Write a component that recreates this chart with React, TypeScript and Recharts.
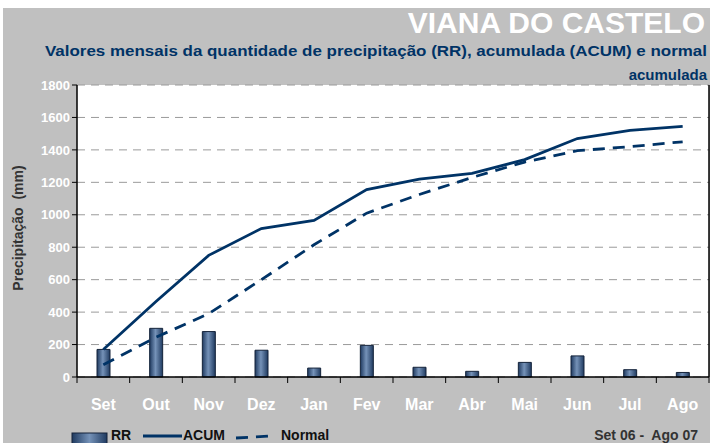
import {
  ComposedChart,
  Bar,
  Line,
  XAxis,
  YAxis,
  CartesianGrid,
} from 'recharts';

const months = ['Set', 'Out', 'Nov', 'Dez', 'Jan', 'Fev', 'Mar', 'Abr', 'Mai', 'Jun', 'Jul', 'Ago'];
const rr = [170, 300, 280, 165, 55, 195, 60, 35, 90, 130, 45, 28];
const acum = [170, 465, 750, 915, 965, 1155, 1220, 1255, 1340, 1470, 1520, 1545];
const normal = [75, 245, 390, 600, 815, 1010, 1125, 1230, 1325, 1395, 1420, 1450];
const yTicks = [0, 200, 400, 600, 800, 1000, 1200, 1400, 1600, 1800];

const data = months.map((m, i) => ({ m, rr: rr[i], acum: acum[i], normal: normal[i] }));

const NAVY = '#003366';
const FONT = '"Liberation Sans", Arial, sans-serif';

function MonthTick(props: any) {
  const { x, y, payload, index } = props;
  const half = payload?.offset || props.width / props.visibleTicksCount / 2;
  return (
    <g>
      {index === 0 && <line x1={x - half} y1={y} x2={x - half} y2={y + 6} stroke="#000" />}
      <line x1={x + half} y1={y} x2={x + half} y2={y + 6} stroke="#000" />
      <text
        x={x}
        y={y + 33}
        textAnchor="middle"
        fill="#fff"
        fontFamily={FONT}
        fontWeight="bold"
        fontSize={16}
      >
        {payload.value}
      </text>
    </g>
  );
}

export default function App() {
  return (
    <div style={{ position: 'absolute', left: 0, top: 0, width: 710, height: 443, background: '#fff', fontFamily: FONT }}>
      <div style={{ position: 'absolute', left: 3, top: 8, right: 0, bottom: 0, background: '#c0c0c0' }} />
      <svg width={710} height={90} style={{ position: 'absolute', left: 0, top: 0 }}>
        <text x={705} y={33} textAnchor="end" fill="#fff" fontWeight="bold" fontSize={30} fontFamily={FONT}>
          VIANA DO CASTELO
        </text>
        <text x={707} y={56} textAnchor="end" fill={NAVY} fontWeight="bold" fontSize={15} fontFamily={FONT}
          textLength={662} lengthAdjust="spacingAndGlyphs">
          Valores mensais da quantidade de precipitação (RR), acumulada (ACUM) e normal
        </text>
        <text x={707} y={80} textAnchor="end" fill={NAVY} fontWeight="bold" fontSize={15} fontFamily={FONT}>
          acumulada
        </text>
      </svg>
      <div style={{ position: 'absolute', left: 0, top: 0 }}>
        <ComposedChart width={710} height={443} data={data} margin={{ top: 85, right: 0, bottom: 26, left: 0 }}>
          <defs>
            <linearGradient id="barGrad" x1="0" y1="0" x2="1" y2="0">
              <stop offset="0%" stopColor="#1f3a60" />
              <stop offset="45%" stopColor="#7592b8" />
              <stop offset="100%" stopColor="#1f3a60" />
            </linearGradient>
          </defs>
          <CartesianGrid vertical={false} stroke="#9a9a9a" strokeDasharray="8 6" fill="#fff" />
          <XAxis
            dataKey="m"
            height={40}
            tickLine={false}
            tickSize={0}
            tickMargin={0}
            axisLine={{ stroke: '#000', strokeWidth: 1.5 }}
            tick={<MonthTick />}
            interval={0}
          />
          <XAxis xAxisId="top" dataKey="m" orientation="top" height={0} tick={false} tickLine={false}
            axisLine={{ stroke: '#000', strokeWidth: 1.5 }} />
          <YAxis
            width={77}
            domain={[0, 1800]}
            ticks={yTicks}
            interval={0}
            tickSize={5}
            tickLine={{ stroke: '#000' }}
            axisLine={{ stroke: '#000', strokeWidth: 1.5 }}
            tick={{ fill: '#fff', fontSize: 13, fontWeight: 'bold', fontFamily: FONT }}
          />
          <YAxis yAxisId="r" orientation="right" width={1} domain={[0, 1800]} tick={false} tickLine={false}
            axisLine={{ stroke: '#000', strokeWidth: 1.5 }} />
          <Bar dataKey="rr" barSize={13} fill="url(#barGrad)" stroke="#14233a" strokeWidth={1} isAnimationActive={false} />
          <Line dataKey="acum" stroke={NAVY} strokeWidth={2.8} dot={false} isAnimationActive={false} />
          <Line dataKey="normal" stroke={NAVY} strokeWidth={2.8} strokeDasharray="12 8" dot={false} isAnimationActive={false} />
        </ComposedChart>
      </div>
      <div
        style={{
          position: 'absolute', left: 5, top: 228, transform: 'translate(-50%, -50%) rotate(-90deg)',
          marginLeft: 13, whiteSpace: 'nowrap', fontWeight: 'bold', fontSize: 14, color: '#333',
        }}
      >
        Precipitação&nbsp;&nbsp;(mm)
      </div>
      <svg width={710} height={22} style={{ position: 'absolute', left: 0, top: 421 }}>
        <defs>
          <linearGradient id="legGrad" x1="0" y1="0" x2="1" y2="0">
            <stop offset="0%" stopColor="#1f3a60" />
            <stop offset="50%" stopColor="#7592b8" />
            <stop offset="100%" stopColor="#1f3a60" />
          </linearGradient>
        </defs>
        <rect x={72} y={12} width={35} height={14} fill="url(#legGrad)" stroke="#14233a" />
        <text x={111} y={19} fontWeight="bold" fontSize={14} fill="#111" fontFamily={FONT}>RR</text>
        <line x1={143} y1={15} x2={182} y2={15} stroke={NAVY} strokeWidth={2.8} />
        <text x={183} y={19} fontWeight="bold" fontSize={14} fill="#111" fontFamily={FONT}>ACUM</text>
        <line x1={236} y1={17} x2={272} y2={15} stroke={NAVY} strokeWidth={2.8} strokeDasharray="12 8" />
        <text x={281} y={19} fontWeight="bold" fontSize={14} fill="#111" fontFamily={FONT}>Normal</text>
        <text x={698} y={19} textAnchor="end" fontWeight="bold" fontSize={14} fill="#333" fontFamily={FONT}>
          Set 06 -&nbsp; Ago 07
        </text>
      </svg>
    </div>
  );
}
